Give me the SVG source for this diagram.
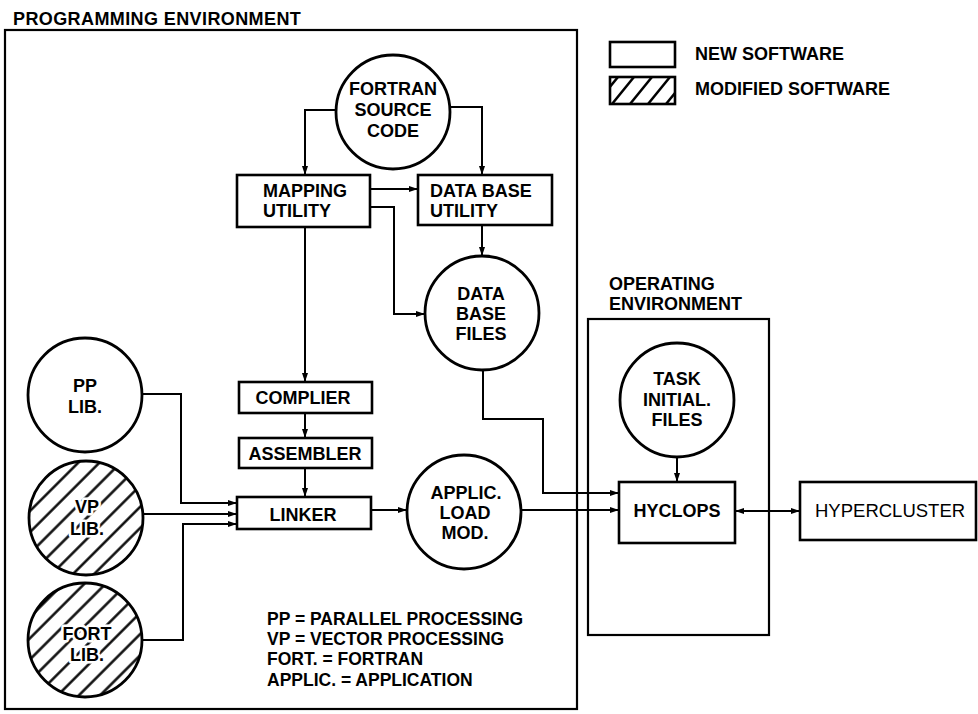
<svg xmlns="http://www.w3.org/2000/svg" width="978" height="714" viewBox="0 0 978 714">
<style>
  text { font-family: "Liberation Sans", Arial, sans-serif; font-weight: bold; font-size: 18px; fill: #000; }
  .c { text-anchor: middle; }
  .reg { font-weight: normal; font-size: 18.5px; }
  .abbr { font-size: 17.5px; }
  .halo { stroke: #fff; stroke-width: 5px; paint-order: stroke; stroke-linejoin: round; }
  .box { fill: #fff; stroke: #000; stroke-width: 2.6; }
  .env { fill: none; stroke: #000; stroke-width: 2.2; }
  .node { fill: #fff; stroke: #000; stroke-width: 2.8; }
  .hatch { fill: url(#hatch); stroke: #000; stroke-width: 2.8; }
  .conn { fill: none; stroke: #000; stroke-width: 2; }
  .arr { marker-end: url(#ah); }
</style>
<defs>
  <marker id="ah" markerUnits="userSpaceOnUse" markerWidth="10" markerHeight="8" refX="9" refY="4" orient="auto">
    <path d="M0,1 L9,4 L0,7 z" fill="#000"/>
  </marker>
  <marker id="ahs" markerUnits="userSpaceOnUse" markerWidth="10" markerHeight="8" refX="1" refY="4" orient="auto">
    <path d="M10,1 L1,4 L10,7 z" fill="#000"/>
  </marker>
  <pattern id="hatch" patternUnits="userSpaceOnUse" width="15" height="15" patternTransform="rotate(45)">
    <rect width="15" height="15" fill="#fff"/>
    <line x1="7.5" y1="0" x2="7.5" y2="15" stroke="#000" stroke-width="2.4"/>
  </pattern>
  <clipPath id="legclip"><rect x="610" y="77" width="65" height="27"/></clipPath>
</defs>

<!-- environments -->
<g id="programming-environment">
  <text x="13" y="25" letter-spacing="0.4">PROGRAMMING ENVIRONMENT</text>
  <rect class="env" x="5" y="30" width="572" height="679"/>
</g>
<g id="operating-environment">
  <text x="609" y="290">OPERATING</text>
  <text x="609" y="310">ENVIRONMENT</text>
  <rect class="env" x="588" y="319" width="181" height="316"/>
</g>

<!-- legend -->
<g id="legend">
  <rect class="box" x="610" y="42" width="65" height="25"/>
  <text x="695" y="60">NEW SOFTWARE</text>
  <g clip-path="url(#legclip)" stroke="#000" stroke-width="2.5">
    <line x1="596" y1="104" x2="618" y2="77"/>
    <line x1="612" y1="104" x2="634" y2="77"/>
    <line x1="630" y1="104" x2="652" y2="77"/>
    <line x1="648" y1="104" x2="670" y2="77"/>
    <line x1="666" y1="104" x2="688" y2="77"/>
  </g>
  <rect x="610" y="77" width="65" height="27" fill="none" stroke="#000" stroke-width="2.6"/>
  <text x="695" y="95">MODIFIED SOFTWARE</text>
</g>

<!-- connectors -->
<g id="connectors">
  <path class="conn arr" d="M336,110 H305 V175"/>
  <path class="conn arr" d="M451,107 H482 V175"/>
  <path class="conn arr" d="M370,189 H418"/>
  <path class="conn arr" d="M370,207 H394 V314 H425"/>
  <path class="conn arr" d="M482,225 V256"/>
  <path class="conn arr" d="M305,227 V382"/>
  <path class="conn arr" d="M305,413 V438"/>
  <path class="conn arr" d="M305,468 V497"/>
  <path class="conn arr" d="M142,394 H181 V503 H237"/>
  <path class="conn arr" d="M142,514 H237"/>
  <path class="conn arr" d="M142,640 H183 V524 H237"/>
  <path class="conn arr" d="M371,510 H407"/>
  <path class="conn arr" d="M483,370 V419 H543 V493 H619"/>
  <path class="conn arr" d="M521,510 H619"/>
  <path class="conn arr" d="M677,457 V482"/>
  <path class="conn" d="M735,511 H800" marker-start="url(#ahs)" marker-end="url(#ah)"/>
</g>

<!-- nodes -->
<g id="fortran-source">
  <circle class="node" cx="393" cy="112" r="57"/>
  <text class="c" x="393" y="95">FORTRAN</text>
  <text class="c" x="393" y="116">SOURCE</text>
  <text class="c" x="393" y="137">CODE</text>
</g>
<g id="mapping-utility">
  <rect class="box" x="237" y="175" width="133" height="52"/>
  <text x="263" y="197">MAPPING</text>
  <text x="263" y="217">UTILITY</text>
</g>
<g id="database-utility">
  <rect class="box" x="418" y="175" width="134" height="50"/>
  <text x="430" y="197">DATA BASE</text>
  <text x="430" y="217">UTILITY</text>
</g>
<g id="database-files">
  <circle class="node" cx="482" cy="313" r="57"/>
  <text class="c" x="481" y="300">DATA</text>
  <text class="c" x="481" y="320">BASE</text>
  <text class="c" x="481" y="340">FILES</text>
</g>
<g id="compiler">
  <rect class="box" x="239" y="382" width="133" height="31"/>
  <text class="c" x="303" y="404">COMPLIER</text>
</g>
<g id="assembler">
  <rect class="box" x="239" y="438" width="133" height="30"/>
  <text class="c" x="305" y="460">ASSEMBLER</text>
</g>
<g id="linker">
  <rect class="box" x="237" y="497" width="134" height="32"/>
  <text class="c" x="303" y="521">LINKER</text>
</g>
<g id="pp-lib">
  <circle class="node" cx="85" cy="395" r="57"/>
  <text class="c" x="85" y="392">PP</text>
  <text class="c" x="85" y="413">LIB.</text>
</g>
<g id="vp-lib">
  <circle class="hatch" cx="86" cy="518" r="57"/>
  <text class="c halo" x="87" y="513">VP</text>
  <text class="c halo" x="87" y="535">LIB.</text>
</g>
<g id="fort-lib">
  <circle class="hatch" cx="85" cy="640" r="57"/>
  <text class="c halo" x="87" y="640">FORT</text>
  <text class="c halo" x="87" y="661">LIB.</text>
</g>
<g id="applic-load-mod">
  <circle class="node" cx="464" cy="512" r="57"/>
  <text class="c" x="466" y="499">APPLIC.</text>
  <text class="c" x="465" y="519">LOAD</text>
  <text class="c" x="465" y="539">MOD.</text>
</g>
<g id="task-initial-files">
  <circle class="node" cx="677" cy="400" r="57"/>
  <text class="c" x="677" y="385">TASK</text>
  <text class="c" x="677" y="406">INITIAL.</text>
  <text class="c" x="677" y="426">FILES</text>
</g>
<g id="hyclops">
  <rect class="box" x="619" y="482" width="116" height="61"/>
  <text class="c" x="677" y="517">HYCLOPS</text>
</g>
<g id="hypercluster">
  <rect class="box" x="800" y="482" width="176" height="58"/>
  <text class="reg" x="815" y="517">HYPERCLUSTER</text>
</g>

<!-- abbreviations -->
<g id="abbreviations">
  <text class="abbr" x="267" y="625">PP = PARALLEL PROCESSING</text>
  <text class="abbr" x="267" y="645">VP = VECTOR PROCESSING</text>
  <text class="abbr" x="267" y="665">FORT. = FORTRAN</text>
  <text class="abbr" x="267" y="686">APPLIC. = APPLICATION</text>
</g>
</svg>
